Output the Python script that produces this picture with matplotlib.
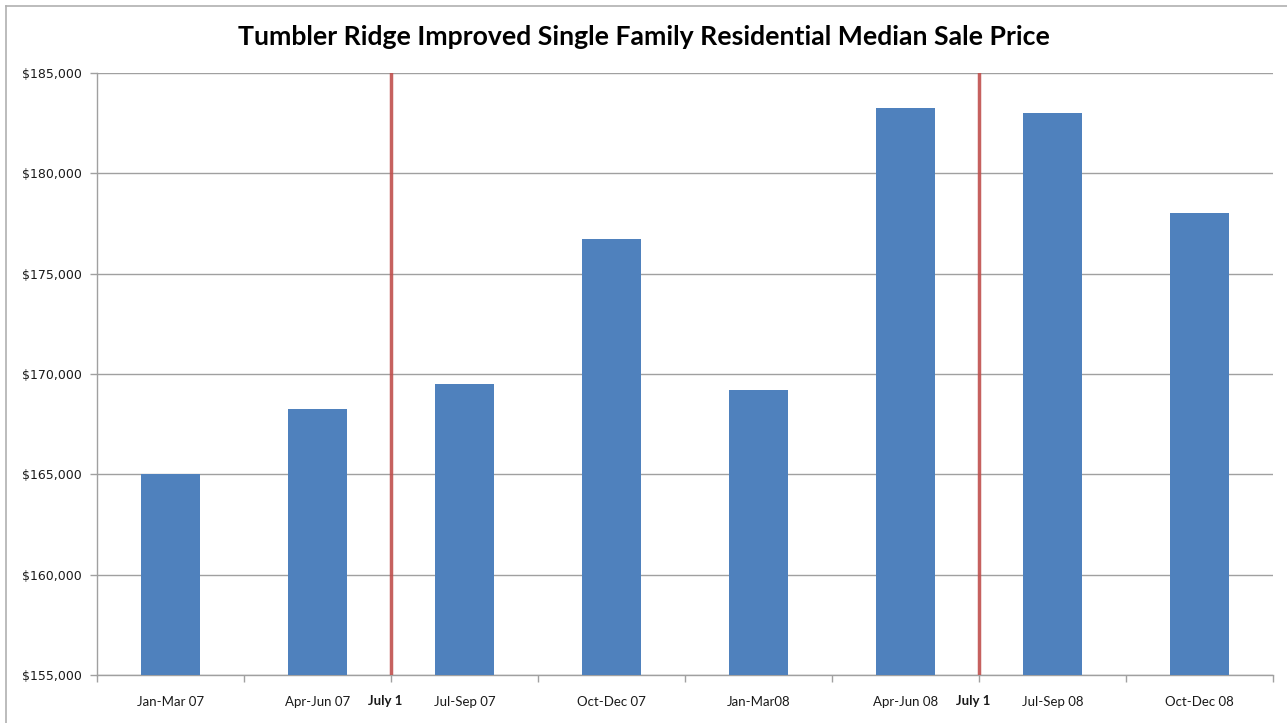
import numpy as np
import matplotlib.pyplot as plt
from matplotlib.ticker import FuncFormatter, FixedLocator

# quarterly median sale prices
quarters = ['Jan-Mar 07', 'Apr-Jun 07', 'Jul-Sep 07', 'Oct-Dec 07',
            'Jan-Mar08', 'Apr-Jun 08', 'Jul-Sep 08', 'Oct-Dec 08']
prices = [165000, 168250, 169500, 176750, 169200, 183250, 183000, 178000]

# July 1 markers sit between these category positions
july_marks = [1.5, 5.5]
july_label = 'July 1'

title = 'Tumbler Ridge Improved Single Family Residential Median Sale Price'

fig = plt.figure(figsize=(12.87, 7.23), dpi=100)
ax = fig.add_axes([97 / 1287, 1 - 675 / 723, (1273 - 97) / 1287, (675 - 73) / 723])

x = np.arange(len(quarters))
ax.bar(x, prices, width=0.4, color='#4F81BD', zorder=3)

ax.set_ylim(155000, 185000)
ax.set_xlim(-0.5, len(quarters) - 0.5)
ax.set_yticks(np.arange(155000, 185001, 5000))
ax.yaxis.set_major_formatter(FuncFormatter(lambda v, p: '${:,.0f}'.format(v)))
ax.grid(axis='y', color='#A0A0A0', linewidth=1, zorder=0)

ax.set_xticks(x)
ax.set_xticklabels(quarters, family='Lato', fontsize=9.5, color='#1a1a1a')
ax.xaxis.set_minor_locator(FixedLocator(np.arange(-0.5, len(quarters), 1.0)))
ax.tick_params(axis='x', which='major', length=0, pad=15)
ax.tick_params(axis='x', which='minor', length=5, color='#A0A0A0', width=1)
ax.tick_params(axis='y', length=5, color='#A0A0A0', width=1, labelsize=9,
               labelcolor='#1a1a1a', pad=6)

for side in ['top', 'right']:
    ax.spines[side].set_visible(False)
for side in ['left', 'bottom']:
    ax.spines[side].set_color('#A0A0A0')
    ax.spines[side].set_linewidth(1)

for m in july_marks:
    ax.axvline(m, color='#C0504D', linewidth=2.5, alpha=0.9, zorder=4)
    ax.text(m - 0.04, -0.033, july_label, transform=ax.get_xaxis_transform(),
            ha='center', va='top', fontsize=9.5, fontweight='bold',
            family='Lato', color='#1a1a1a')

fig.text(0.5, 1 - 37 / 723, title, ha='center', va='center', fontsize=19.2,
         fontweight='bold', family='Lato', color='black')

# chart frame (left and top edges visible in the original)
fig.add_artist(plt.Line2D([6 / 1287, 6 / 1287], [0, 1 - 6 / 723],
                          transform=fig.transFigure, color='#B0B0B0', linewidth=1.2))
fig.add_artist(plt.Line2D([6 / 1287, 1], [1 - 6 / 723, 1 - 6 / 723],
                          transform=fig.transFigure, color='#B0B0B0', linewidth=1.2))

fig.savefig('out.png', dpi=100)
